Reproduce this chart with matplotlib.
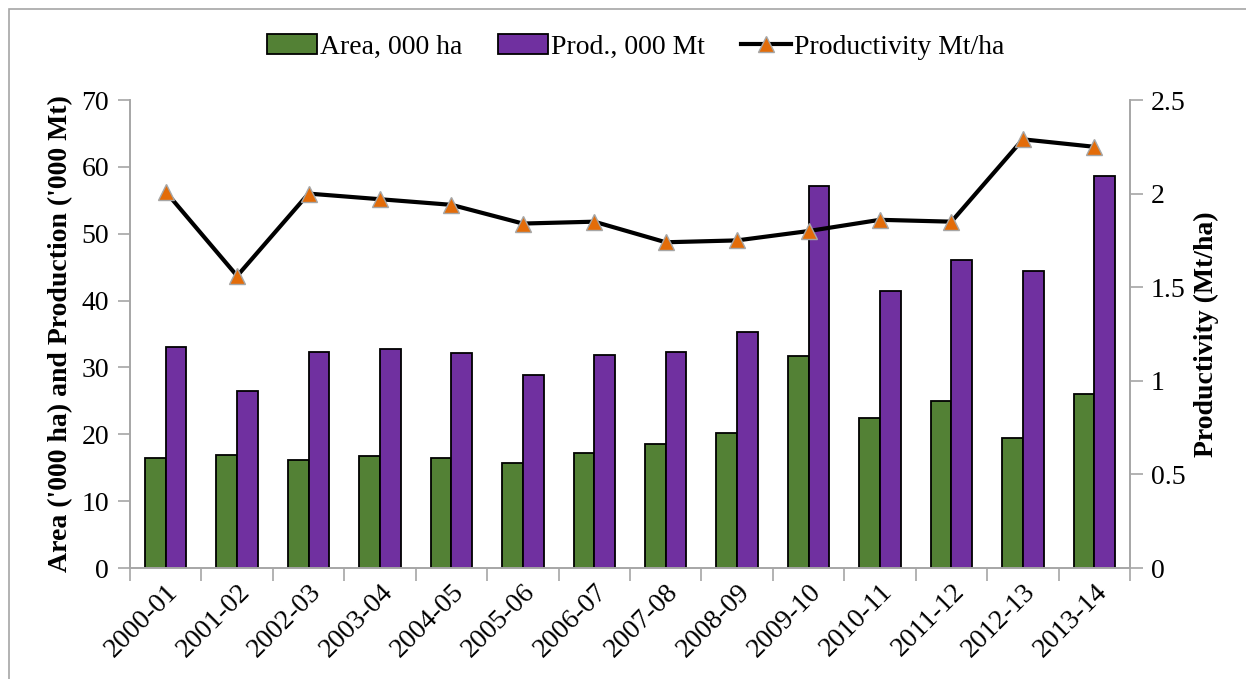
import matplotlib.pyplot as plt
import numpy as np
from matplotlib.patches import Rectangle

years = ['2000-01', '2001-02', '2002-03', '2003-04', '2004-05', '2005-06', '2006-07',
         '2007-08', '2008-09', '2009-10', '2010-11', '2011-12', '2012-13', '2013-14']
area = [16.45, 16.9, 16.15, 16.75, 16.45, 15.7, 17.2, 18.55, 20.2, 31.7, 22.4, 25.0, 19.4, 26.0]
prod = [33.05, 26.5, 32.3, 32.75, 32.15, 28.9, 31.9, 32.3, 35.3, 57.1, 41.4, 46.1, 44.4, 58.6]
productivity = [2.01, 1.56, 2.00, 1.97, 1.94, 1.84, 1.85, 1.74, 1.75, 1.80, 1.86, 1.85, 2.29, 2.25]

plt.rcParams['font.family'] = ['Liberation Serif', 'DejaVu Serif']
grey = '#a6a6a6'
fs = 20

fig = plt.figure(figsize=(12.46, 6.79), dpi=100)
ax = fig.add_axes([130/1246, 1-568/679, 1000/1246, 468/679])
ax2 = ax.twinx()

# outer frame of the chart area
fig.patches.append(Rectangle((9/1246, -0.1), 1.2, 1-9/679+0.1, transform=fig.transFigure,
                             fill=False, edgecolor=grey, lw=1.2))

x = np.arange(len(years))
w = 0.29
b1 = ax.bar(x - w/2, area, w, color='#538135', edgecolor='black', lw=1.3, label='Area, 000 ha')
b2 = ax.bar(x + w/2, prod, w, color='#7030a0', edgecolor='black', lw=1.3, label='Prod., 000 Mt')
ln, = ax2.plot(x, productivity, color='black', lw=3, marker='^', ms=11,
               markerfacecolor='#e36c09', markeredgecolor='#a6a6a6', markeredgewidth=1,
               label='Productivity Mt/ha')

ax.set_xlim(-0.5, len(years) - 0.5)
ax.set_ylim(0, 70)
ax.set_yticks(range(0, 71, 10))
ax2.set_ylim(0, 2.5)
ax2.set_yticks([0, 0.5, 1, 1.5, 2, 2.5])
ax2.set_yticklabels(['0', '0.5', '1', '1.5', '2', '2.5'])

ax.set_xticks(x)
ax.set_xticklabels(years, rotation=45, ha='right', rotation_mode='anchor', fontsize=fs)
ax.set_xticks(np.arange(-0.5, len(years)), minor=True)
ax.tick_params(axis='x', which='major', length=0, pad=8)
ax.tick_params(axis='x', which='minor', length=9, color=grey, width=1.2)
ax.tick_params(axis='y', labelsize=fs, length=9, color=grey, width=1.2, pad=6)
ax2.tick_params(axis='y', labelsize=fs, length=9, color=grey, width=1.2, pad=6)

for a in (ax, ax2):
    a.spines['top'].set_visible(False)
    for s in ('left', 'right', 'bottom'):
        a.spines[s].set_color(grey)
        a.spines[s].set_linewidth(1.2)

ax.set_ylabel("Area ('000 ha) and Production ('000 Mt)", fontsize=fs, fontweight='bold', labelpad=6)
ax2.set_ylabel('Productivity (Mt/ha)', fontsize=fs, fontweight='bold', labelpad=6)

fig.legend(handles=[b1, b2, ln], loc='center', bbox_to_anchor=(0.51, 1-47/679), ncol=3,
           frameon=False, fontsize=fs, handlelength=1.8, columnspacing=1.3, handletextpad=0.1)

fig.savefig('out.png', dpi=100)
